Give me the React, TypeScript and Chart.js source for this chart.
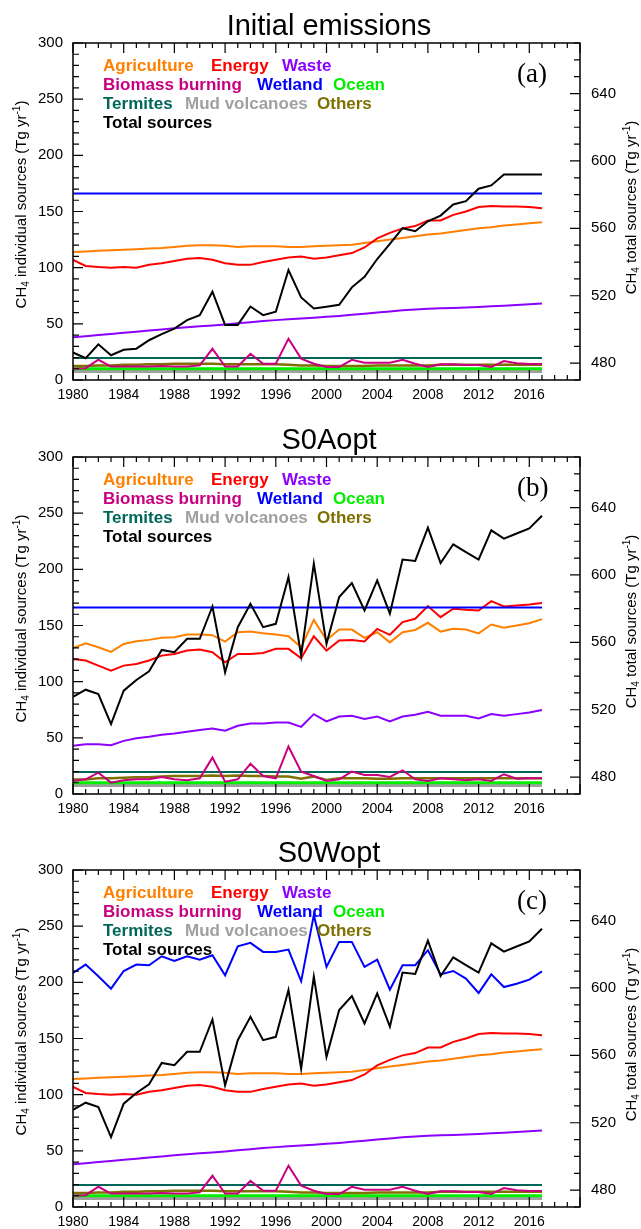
import React, { useEffect, useRef } from "react";
import { Chart, registerables } from "chart.js";

Chart.register(...registerables);

// ---------- categories & ticks ----------
const years = [
  1980, 1981, 1982, 1983, 1984, 1985, 1986, 1987, 1988, 1989,
  1990, 1991, 1992, 1993, 1994, 1995, 1996, 1997, 1998, 1999,
  2000, 2001, 2002, 2003, 2004, 2005, 2006, 2007, 2008, 2009,
  2010, 2011, 2012, 2013, 2014, 2015, 2016, 2017,
];
const xTickYears = [1980, 1984, 1988, 1992, 1996, 2000, 2004, 2008, 2012, 2016];
const leftTicks = [0, 50, 100, 150, 200, 250, 300];
const rightTicks = [480, 520, 560, 600, 640];

// ---------- series (Tg/yr) ----------
// Prior (initial) emissions, also used in S0Wopt for the anthropogenic sectors
const agricultureInit = [
  114, 114.5, 115, 115.5, 116, 116.5, 117, 117.5, 118.5, 119.5,
  120, 120, 119.5, 118.5, 119, 119, 119, 118.5, 118.5, 119,
  119.5, 120, 120.5, 122, 123.5, 125, 126.5, 128, 129.5, 130.5,
  132, 133.5, 135, 136, 137.5, 138.5, 139.5, 140.5,
];
const energyInit = [
  107, 101.5, 100.5, 100, 100.5, 100, 102.5, 104, 106, 108,
  108.5, 107, 104, 102.5, 102.5, 105, 107, 109, 110, 108,
  109, 111, 113, 118, 126, 131, 135, 137, 142, 142,
  147, 150, 154, 155, 154.5, 154.5, 154, 153,
];
const wasteInit = [
  38, 39, 40, 41, 42, 43, 44, 45, 46, 47,
  47.8, 48.6, 49.5, 50.5, 51.5, 52.5, 53.3, 54, 54.8, 55.5,
  56.2, 57, 58, 59, 60, 61, 62, 62.7, 63.4, 63.8,
  64.2, 64.6, 65, 65.6, 66.2, 66.8, 67.4, 68,
];
const biomassInit = [
  10, 10.5, 18, 12, 12, 12, 12, 12.5, 12, 12,
  13, 27.8, 12, 12, 23.4, 14.5, 14.5, 36.8, 19, 14.5,
  11.5, 11.5, 18, 15.3, 15.3, 15.3, 18, 14.5, 11.5, 14,
  14, 13.4, 13.4, 11.5, 16.8, 15, 14.2, 14.2,
];
const othersInit = [
  12.5, 12.5, 13, 13, 13.5, 13.5, 14, 14, 14.5, 14.5,
  14.5, 14.5, 14, 14, 14, 14, 14, 13.5, 13, 13,
  12.5, 12.5, 12.5, 12.5, 13, 13, 13, 13, 13, 13.5,
  13.5, 13.5, 13.5, 13.5, 13.5, 13.5, 13.5, 13.5,
];
const wetlandInit = [
  166, 166, 166, 166, 166, 166, 166, 166, 166, 166,
  166, 166, 166, 166, 166, 166, 166, 166, 166, 166,
  166, 166, 166, 166, 166, 166, 166, 166, 166, 166,
  166, 166, 166, 166, 166, 166, 166, 166,
];
const termitesAll = [
  19.5, 19.5, 19.5, 19.5, 19.5, 19.5, 19.5, 19.5, 19.5, 19.5,
  19.5, 19.5, 19.5, 19.5, 19.5, 19.5, 19.5, 19.5, 19.5, 19.5,
  19.5, 19.5, 19.5, 19.5, 19.5, 19.5, 19.5, 19.5, 19.5, 19.5,
  19.5, 19.5, 19.5, 19.5, 19.5, 19.5, 19.5, 19.5,
];
const oceanAll = [
  10, 10, 10, 10, 10, 10, 10, 10, 10, 10,
  10, 10, 10, 10, 10, 10, 10, 10, 10, 10,
  10, 10, 10, 10, 10, 10, 10, 10, 10, 10,
  10, 10, 10, 10, 10, 10, 10, 10,
];
const mudVolcanoesAll = [
  7.5, 7.5, 7.5, 7.5, 7.5, 7.5, 7.5, 7.5, 7.5, 7.5,
  7.5, 7.5, 7.5, 7.5, 7.5, 7.5, 7.5, 7.5, 7.5, 7.5,
  7.5, 7.5, 7.5, 7.5, 7.5, 7.5, 7.5, 7.5, 7.5, 7.5,
  7.5, 7.5, 7.5, 7.5, 7.5, 7.5, 7.5, 7.5,
];
const totalInit = [
  486.3, 482.9, 491.2, 484.7, 487.9, 488.6, 493.6, 497.2, 500.5, 505.5,
  508.5, 522.4, 502.7, 502.7, 513.6, 508.5, 510.5, 535.3, 519, 512.5,
  513.5, 514.6, 525, 531.3, 541.8, 550.8, 560.1, 558.3, 564.2, 567.6,
  574.2, 576.1, 583.5, 585.5, 592, 592, 592, 592,
];

// S0Aopt (optimized anthropogenic sectors)
const agricultureS0A = [
  130, 134.2, 130.6, 126.5, 133.6, 136, 137.2, 139, 139.6, 142,
  142, 141.4, 135.7, 144, 144.6, 143, 142, 140.4, 130.6, 155,
  137, 146.4, 146.4, 139, 144, 135, 144, 146, 152.4, 144.6,
  147, 146.4, 143, 150.9, 148, 150, 152, 155.7,
];
const energyS0A = [
  120.2, 118.8, 114.3, 109.8, 114.3, 115.8, 118.8, 123.2, 124.7, 127.7,
  128.6, 126.2, 117.3, 124.7, 124.7, 125.6, 129.2, 129.2, 120.8, 140.4,
  127.7, 136.6, 137, 135.7, 147, 141.7, 153, 156, 167.3, 157.4,
  164.9, 164, 163.4, 171.7, 167, 167.9, 168.8, 170,
];
const wasteS0A = [
  42.9, 44.3, 44.3, 43.5, 47.3, 49.7, 50.9, 52.7, 53.9, 55.4,
  56.9, 58.3, 56.3, 60.7, 62.8, 62.8, 63.7, 63.7, 59.8, 71.1,
  64.6, 69, 69.6, 66.7, 69, 64.6, 69, 70.5, 73.2, 69.6,
  69.6, 69.6, 67.3, 71.1, 69.6, 71.1, 72.6, 74.7,
];
const biomassS0A = [
  11.6, 13.1, 19, 10.1, 12.2, 13.1, 13.1, 15.2, 13.1, 12.2,
  14, 32.4, 11, 13.1, 27, 16, 14, 42.3, 19.9, 16,
  11.6, 13.1, 19.9, 17, 17, 15.2, 21.1, 13.1, 11.6, 14,
  13.1, 12.2, 13.1, 11.6, 17.6, 13.6, 14, 14,
];
const othersS0A = [
  13, 13, 14, 14, 14.5, 15, 15, 15.5, 16, 16,
  16, 16.5, 16, 16.5, 16, 16, 15.5, 15.5, 13.5, 15.5,
  12.5, 14, 14, 14, 13.5, 13.5, 14, 14, 14, 14,
  14, 14, 14, 14, 14, 14, 14, 14,
];
// Optimized total sources (same in S0Aopt and S0Wopt)
const totalOpt = [
  527.7, 531.9, 529.3, 511.5, 531.3, 537.7, 542.8, 555.5, 554.1, 562.1,
  562.1, 581.3, 542.2, 569, 582.9, 569, 571, 598.8, 552.1, 606.7,
  559.1, 586.9, 595.2, 578.9, 596.8, 577, 609.1, 608.3, 628.1, 607.1,
  618.2, 613.6, 609.1, 626.5, 621.6, 624.6, 627.6, 635.1,
];
// S0Wopt (optimized wetland)
const wetlandS0W = [
  208.3, 215.8, 205.4, 194.4, 210.1, 215.8, 215.2, 223.2, 219, 223.2,
  220.2, 224.1, 206.3, 232.1, 235.1, 227.1, 227.1, 229.2, 200.9, 259.8,
  213.7, 236, 236, 213.7, 220.2, 193.5, 215.2, 215.2, 228.6, 207.1,
  210.1, 203.3, 190.5, 207.1, 195.8, 198.8, 202.4, 209.8,
];

// ---------- styles ----------
const FONT = "'Liberation Sans', Arial, Helvetica, sans-serif";
const SERIF = "'Liberation Serif', 'Times New Roman', serif";
const COLORS = {
  agriculture: "#ff8000",
  energy: "#ff0000",
  waste: "#8c00ff",
  biomass: "#c8007f",
  wetland: "#0000ff",
  ocean: "#00ee00",
  termites: "#00665a",
  mud: "#a0a0a0",
  others: "#7f7000",
  total: "#000000",
};

type SeriesSet = {
  agriculture: number[];
  energy: number[];
  waste: number[];
  biomass: number[];
  wetland: number[];
  ocean: number[];
  termites: number[];
  mud: number[];
  others: number[];
  total: number[];
};

type Panel = {
  title: string;
  tag: string;
  canvasTop: number;
  canvasHeight: number;
  series: SeriesSet;
};

const PLOT_TOP = 43;
const PLOT_HEIGHT = 337;
const LEFT_AXIS_W = 73;
const RIGHT_AXIS_W = 61;
const CANVAS_W = 641;

const panels: Panel[] = [
  {
    title: "Initial emissions",
    tag: "(a)",
    canvasTop: 0,
    canvasHeight: 414,
    series: {
      agriculture: agricultureInit,
      energy: energyInit,
      waste: wasteInit,
      biomass: biomassInit,
      wetland: wetlandInit,
      ocean: oceanAll,
      termites: termitesAll,
      mud: mudVolcanoesAll,
      others: othersInit,
      total: totalInit,
    },
  },
  {
    title: "S0Aopt",
    tag: "(b)",
    canvasTop: 414,
    canvasHeight: 413,
    series: {
      agriculture: agricultureS0A,
      energy: energyS0A,
      waste: wasteS0A,
      biomass: biomassS0A,
      wetland: wetlandInit,
      ocean: oceanAll,
      termites: termitesAll,
      mud: mudVolcanoesAll,
      others: othersS0A,
      total: totalOpt,
    },
  },
  {
    title: "S0Wopt",
    tag: "(c)",
    canvasTop: 827,
    canvasHeight: 402,
    series: {
      agriculture: agricultureInit,
      energy: energyInit,
      waste: wasteInit,
      biomass: biomassInit,
      wetland: wetlandS0W,
      ocean: oceanAll,
      termites: termitesAll,
      mud: mudVolcanoesAll,
      others: othersInit,
      total: totalOpt,
    },
  },
];

// legend layout: [label, colour key, x offset from plot left]
const legendRows: [string, keyof typeof COLORS, number][][] = [
  [["Agriculture", "agriculture", 30], ["Energy", "energy", 138], ["Waste", "waste", 209]],
  [["Biomass burning", "biomass", 30], ["Wetland", "wetland", 184], ["Ocean", "ocean", 260]],
  [["Termites", "termites", 30], ["Mud volcanoes", "mud", 112], ["Others", "others", 244]],
  [["Total sources", "total", 30]],
];
const legendBaselines = [28, 47, 66, 85];

type Piece = { t: string; size: number; dy?: number };

function drawRich(ctx: CanvasRenderingContext2D, pieces: Piece[], x: number, y: number) {
  ctx.save();
  ctx.translate(x, y);
  ctx.rotate(-Math.PI / 2);
  ctx.textAlign = "left";
  ctx.textBaseline = "alphabetic";
  ctx.fillStyle = "#000";
  let total = 0;
  const widths: number[] = [];
  for (const p of pieces) {
    ctx.font = `${p.size}px ${FONT}`;
    const w = ctx.measureText(p.t).width;
    widths.push(w);
    total += w;
  }
  let u = -total / 2;
  pieces.forEach((p, i) => {
    ctx.font = `${p.size}px ${FONT}`;
    ctx.fillText(p.t, u, p.dy || 0);
    u += widths[i];
  });
  ctx.restore();
}

function makeDecor(panel: Panel) {
  return {
    id: "decor",
    afterDatasetsDraw(chart: any) {
      const ctx: CanvasRenderingContext2D = chart.ctx;
      const { left, right, top, bottom } = chart.chartArea;
      const xs = chart.scales.x;
      const yl = chart.scales.y;
      const yr = chart.scales.y2;
      ctx.save();
      // frame
      ctx.strokeStyle = "#000";
      ctx.lineWidth = 1.5;
      ctx.strokeRect(left, top, right - left, bottom - top);
      // inward tick marks
      ctx.lineWidth = 1.2;
      ctx.beginPath();
      for (let v = xs.min; v <= xs.max; v += 1) {
        const px = xs.getPixelForValue(v);
        const len = (v - 1980) % 4 === 0 ? 10 : 5;
        ctx.moveTo(px, bottom);
        ctx.lineTo(px, bottom - len);
        ctx.moveTo(px, top);
        ctx.lineTo(px, top + len);
      }
      for (let v = yl.min; v <= yl.max; v += 10) {
        const py = yl.getPixelForValue(v);
        const len = v % 50 === 0 ? 10 : 6;
        ctx.moveTo(left, py);
        ctx.lineTo(left + len, py);
      }
      for (let v = yr.min; v <= yr.max; v += 10) {
        const py = yr.getPixelForValue(v);
        const len = (v - 480) % 40 === 0 ? 10 : 6;
        ctx.moveTo(right, py);
        ctx.lineTo(right - len, py);
      }
      ctx.stroke();

      // legend text
      ctx.font = `bold 17px ${FONT}`;
      ctx.textAlign = "left";
      ctx.textBaseline = "alphabetic";
      legendRows.forEach((row, ri) => {
        row.forEach(([label, key, dx]) => {
          ctx.fillStyle = COLORS[key];
          ctx.fillText(label, left + dx, top + legendBaselines[ri]);
        });
      });

      // panel tag
      ctx.font = `27px ${SERIF}`;
      ctx.fillStyle = "#000";
      ctx.fillText(panel.tag, right - 63, top + 39);
      ctx.restore();
    },
    afterDraw(chart: any) {
      const ctx: CanvasRenderingContext2D = chart.ctx;
      const { top, bottom } = chart.chartArea;
      const mid = (top + bottom) / 2;
      ctx.save();
      // title
      ctx.font = `29px ${FONT}`;
      ctx.fillStyle = "#000";
      ctx.textAlign = "center";
      ctx.textBaseline = "alphabetic";
      ctx.fillText(panel.title, 329, 35);
      ctx.restore();
      // axis titles
      drawRich(
        ctx,
        [
          { t: "CH", size: 15 },
          { t: "4", size: 10, dy: 3 },
          { t: " individual sources (Tg yr", size: 15 },
          { t: "-1", size: 10, dy: -6 },
          { t: ")", size: 15 },
        ],
        26,
        mid - 7
      );
      drawRich(
        ctx,
        [
          { t: "CH", size: 15 },
          { t: "4", size: 10, dy: 3 },
          { t: " total sources (Tg yr", size: 15 },
          { t: "-1", size: 10, dy: -6 },
          { t: ")", size: 15 },
        ],
        636,
        mid - 4
      );
    },
  };
}

function PanelChart({ panel }: { panel: Panel }) {
  const ref = useRef<HTMLCanvasElement | null>(null);
  useEffect(() => {
    if (!ref.current) return;
    const s = panel.series;
    const pts = (arr: number[]) => years.map((x, i) => ({ x, y: arr[i] }));
    const ds = (
      label: string,
      arr: number[],
      color: string,
      axis: string,
      width: number
    ) => ({
      label,
      data: pts(arr),
      borderColor: color,
      backgroundColor: color,
      borderWidth: width,
      pointRadius: 0,
      tension: 0,
      fill: false,
      yAxisID: axis,
    });
    const bottomH = panel.canvasHeight - PLOT_TOP - PLOT_HEIGHT;
    const chart = new Chart(ref.current, {
      type: "line",
      data: {
        datasets: [
          ds("Total sources", s.total, COLORS.total, "y2", 2),
          ds("Wetland", s.wetland, COLORS.wetland, "y", 2),
          ds("Energy", s.energy, COLORS.energy, "y", 2),
          ds("Agriculture", s.agriculture, COLORS.agriculture, "y", 2),
          ds("Waste", s.waste, COLORS.waste, "y", 2),
          ds("Biomass burning", s.biomass, COLORS.biomass, "y", 2),
          ds("Termites", s.termites, COLORS.termites, "y", 2),
          ds("Others", s.others, COLORS.others, "y", 2.5),
          ds("Ocean", s.ocean, COLORS.ocean, "y", 3),
          ds("Mud volcanoes", s.mud, COLORS.mud, "y", 3),
        ],
      },
      options: {
        animation: false,
        responsive: false,
        maintainAspectRatio: false,
        layout: { padding: { top: PLOT_TOP, left: 0, right: 0, bottom: 0 } },
        plugins: {
          legend: { display: false },
          tooltip: { enabled: false },
          title: { display: false },
        },
        scales: {
          x: {
            type: "linear",
            position: "bottom",
            min: 1980,
            max: 2020,
            grid: { display: false, drawTicks: false },
            border: { display: false },
            ticks: {
              color: "#000",
              font: { family: FONT, size: 14 },
              padding: 7,
              maxRotation: 0,
              autoSkip: false,
              callback: (v: any) => String(v),
            },
            afterBuildTicks: (sc: any) => {
              sc.ticks = xTickYears.map((v) => ({ value: v }));
            },
            afterFit: (sc: any) => {
              sc.height = bottomH;
            },
          },
          y: {
            type: "linear",
            position: "left",
            min: 0,
            max: 300,
            grid: { display: false, drawTicks: false },
            border: { display: false },
            ticks: {
              color: "#000",
              font: { family: FONT, size: 15 },
              padding: 10,
            },
            afterBuildTicks: (sc: any) => {
              sc.ticks = leftTicks.map((v) => ({ value: v }));
            },
            afterFit: (sc: any) => {
              sc.width = LEFT_AXIS_W;
            },
          },
          y2: {
            type: "linear",
            position: "right",
            min: 470,
            max: 670,
            grid: { display: false, drawTicks: false },
            border: { display: false },
            ticks: {
              color: "#000",
              font: { family: FONT, size: 15 },
              padding: 11,
            },
            afterBuildTicks: (sc: any) => {
              sc.ticks = rightTicks.map((v) => ({ value: v }));
            },
            afterFit: (sc: any) => {
              sc.width = RIGHT_AXIS_W;
            },
          },
        },
      } as any,
      plugins: [makeDecor(panel) as any],
    });
    return () => chart.destroy();
  }, [panel]);
  return (
    <canvas
      ref={ref}
      width={CANVAS_W}
      height={panel.canvasHeight}
      style={{
        position: "absolute",
        left: 0,
        top: panel.canvasTop,
        width: CANVAS_W,
        height: panel.canvasHeight,
        display: "block",
      }}
    />
  );
}

export default function App() {
  return (
    <div
      style={{
        position: "absolute",
        left: 0,
        top: 0,
        width: CANVAS_W,
        height: 1229,
        background: "#fff",
        overflow: "hidden",
      }}
    >
      {panels.map((p) => (
        <PanelChart key={p.tag} panel={p} />
      ))}
    </div>
  );
}
